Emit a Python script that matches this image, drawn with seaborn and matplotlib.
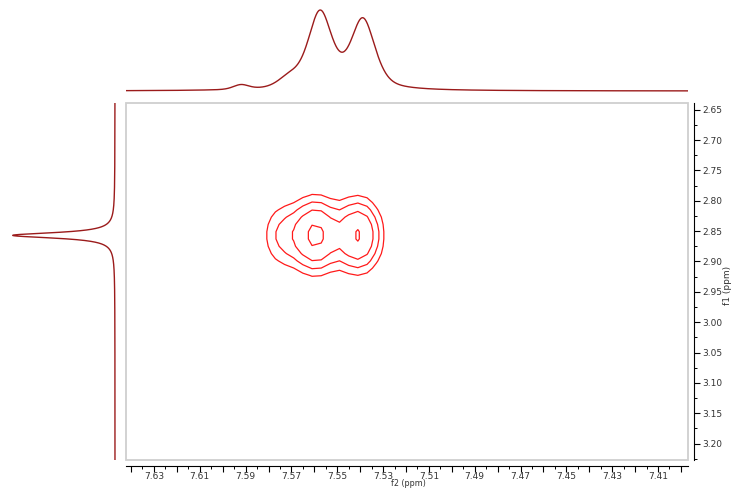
import numpy as np
import pandas as pd
import matplotlib
matplotlib.use("Agg")
import matplotlib.pyplot as plt
import seaborn as sns
from matplotlib.patches import Rectangle
from matplotlib.ticker import MultipleLocator, FixedLocator, FixedFormatter

# ---------------- data ----------------
# f2 (horizontal) 1D projection: peak positions (ppm), heights, half widths, lorentzian fraction
f2_shift = [7.5575, 7.5388, 7.5710, 7.5920]
f2_height = [1.00, 0.90, 0.12, 0.06]
f2_hwhm = [0.0063, 0.0063, 0.0055, 0.0040]
f2_lorentz = [0.5, 0.5, 0.3, 0.3]

# f1 (vertical) 1D projection
f1_shift = [2.857]
f1_height = [1.0]
f1_hwhm = [0.0055]

# 2D cross peak components
cp_f2 = [7.5593, 7.5409, 7.5737]
cp_f1 = [2.857, 2.857, 2.857]
cp_amp = [1.00, 0.93, 0.35]
cp_sig_f2 = [0.0061, 0.0061, 0.0061]
cp_sig_f1 = [0.0362, 0.0362, 0.0362]
contour_levels = [0.18, 0.32, 0.52, 0.90]

x_label_ticks = [7.63, 7.61, 7.59, 7.57, 7.55, 7.53, 7.51, 7.49, 7.47, 7.45, 7.43, 7.41]
y_label_ticks = [2.65, 2.70, 2.75, 2.80, 2.85, 2.90, 2.95, 3.00, 3.05, 3.10, 3.15, 3.20]
x_range = (7.6422, 7.3969)
y_range = (2.639, 3.227)

# ---------------- styling ----------------
sns.set_style("white")
plt.rcParams["font.family"] = ["DejaVu Sans"]
plt.rcParams["font.size"] = 6.5

W, H = 737, 488
fig = plt.figure(figsize=(W / 100, H / 100), dpi=100)

def fx(px):
    return px / W

def fy(py):
    return 1 - py / H

proj_color = "#9b1b1b"
cont_color = "#ff1a1a"

# main axes
L, R, T, B = 126, 688, 103, 460
ax = fig.add_axes([fx(L), fy(B), fx(R) - fx(L), fy(T) - fy(B)])

def pvoigt(x, c, h, w, eta):
    lor = 1.0 / (1.0 + ((x - c) / w) ** 2)
    gau = np.exp(-np.log(2) * ((x - c) / w) ** 2)
    return h * (eta * lor + (1 - eta) * gau)

# 2D surface on a coarse grid (gives polygonal contours)
gx = np.arange(7.645, 7.395, -0.004)
gy = np.arange(2.635, 3.23, 0.012)
GX, GY = np.meshgrid(gx, gy)
Z = np.zeros_like(GX)
for c2, c1, a, s2, s1 in zip(cp_f2, cp_f1, cp_amp, cp_sig_f2, cp_sig_f1):
    Z += a * np.exp(-((GX - c2) ** 2) / (2 * s2 ** 2) - ((GY - c1) ** 2) / (2 * s1 ** 2))
ax.contour(GX, GY, Z, levels=contour_levels, colors=cont_color, linewidths=0.9)

ax.set_xlim(*x_range)
ax.set_ylim(y_range[1], y_range[0])

for s in ["left", "top"]:
    ax.spines[s].set_visible(False)
for s in ["bottom", "right"]:
    ax.spines[s].set_position(("outward", 4))
    ax.spines[s].set_color("black")
    ax.spines[s].set_linewidth(0.8)
ax.add_patch(Rectangle((0, 0), 1, 1, transform=ax.transAxes, fill=False,
                       edgecolor="#cfcfcf", lw=1.3, clip_on=False, zorder=0))

ax.yaxis.tick_right()
ax.yaxis.set_label_position("right")
ax.xaxis.set_major_locator(MultipleLocator(0.01))
ax.xaxis.set_minor_locator(MultipleLocator(0.005))
ax.xaxis.set_major_formatter(plt.FuncFormatter(
    lambda v, p: ("%.2f" % v) if any(abs(v - t) < 1e-6 for t in x_label_ticks) else ""))
ax.yaxis.set_major_locator(FixedLocator(y_label_ticks))
ax.yaxis.set_major_formatter(FixedFormatter(["%.2f" % v for v in y_label_ticks]))
ax.yaxis.set_minor_locator(MultipleLocator(0.025))
ax.tick_params(axis="both", which="major", direction="out", length=4, width=0.8,
               colors="black", labelsize=6.5, pad=2)
ax.tick_params(axis="both", which="minor", direction="out", length=2.5, width=0.7, colors="black")
ax.tick_params(axis="x", bottom=True, which="both")
ax.tick_params(axis="x", which="major", pad=0.5)
ax.tick_params(axis="y", right=True, left=False, which="both")
ax.tick_params(axis="x", labelcolor="#333333")
ax.tick_params(axis="y", labelcolor="#333333")

fig.text(fx(408), fy(488), "f2 (ppm)", ha="center", va="bottom", fontsize=5.8, color="#333333")
fig.text(fx(727), fy(285), "f1 (ppm)", ha="center", va="center", rotation=90,
         fontsize=6.5, color="#333333")

# top projection
xs = np.linspace(x_range[0], x_range[1], 1500)
top = np.zeros_like(xs)
for c, h, w, e in zip(f2_shift, f2_height, f2_hwhm, f2_lorentz):
    top += pvoigt(xs, c, h, w, e)
top_df = pd.DataFrame({"ppm": xs, "intensity": top})
at_top, at_bot = 5, 95
axt = fig.add_axes([fx(L), fy(at_bot), fx(R) - fx(L), fy(at_top) - fy(at_bot)])
sns.lineplot(data=top_df, x="ppm", y="intensity", ax=axt, color=proj_color,
             linewidth=1.0, estimator=None, sort=False)
axt.set_xlim(*x_range)
m = top.max()
# baseline at y=91 px, max at y=10 px
f0 = (at_bot - 91) / (at_bot - at_top)
f1v = (at_bot - 10) / (at_bot - at_top)
span = m / (f1v - f0)
axt.set_ylim(-f0 * span, -f0 * span + span)
axt.axis("off")

# left projection
ys = np.linspace(y_range[0], y_range[1], 3000)
side = np.zeros_like(ys)
for c, h, w in zip(f1_shift, f1_height, f1_hwhm):
    side += h / (1 + ((ys - c) / w) ** 2)
side_df = pd.DataFrame({"ppm": ys, "intensity": side})
axl = fig.add_axes([0, fy(B), fx(125), fy(T) - fy(B)])
sns.lineplot(data=side_df, x="intensity", y="ppm", ax=axl, color=proj_color,
             linewidth=1.0, estimator=None, sort=False, orient="y")
ms = side.max()
p0 = 115 / 125
p1 = 12.7 / 125
rng = ms / (p0 - p1)
a = p0 * rng
axl.set_xlim(a, a - rng)
axl.set_ylim(y_range[1], y_range[0])
axl.axis("off")

fig.savefig("out.png", dpi=100)
